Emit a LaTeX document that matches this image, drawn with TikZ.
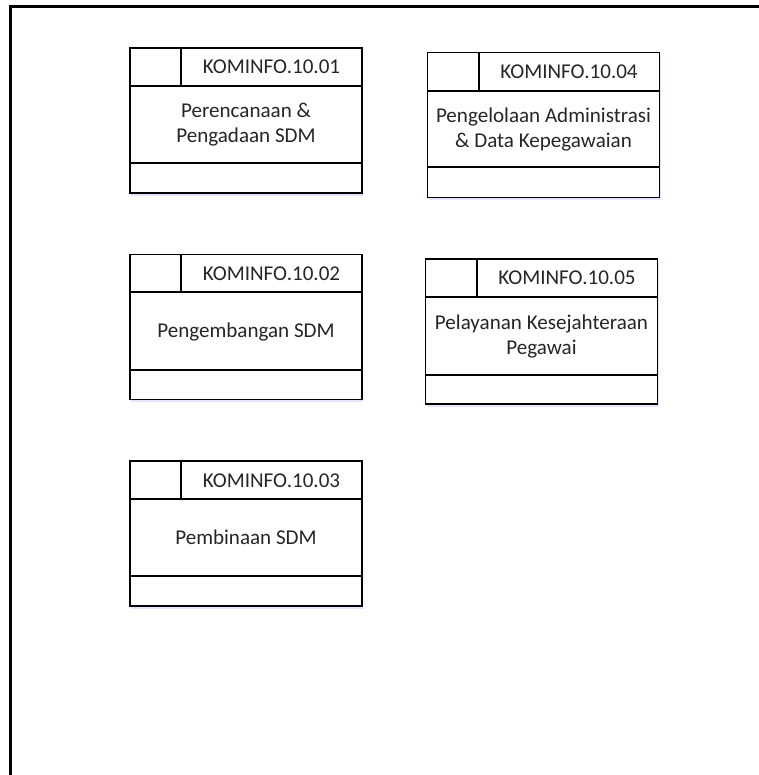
\documentclass[tikz,border=0pt]{standalone}
\usepackage{fontspec}
\setmainfont{Carlito}
\usetikzlibrary{shadows}

\tikzset{
  fungsi/.style={draw, line width=1.2pt, fill=white, inner sep=0pt,
    minimum width=174pt, minimum height=108.5pt,
    drop shadow={shadow xshift=1pt, shadow yshift=-2pt, fill=blue!30, opacity=.35}},
  garis/.style={line width=1.2pt},
  kode/.style={align=center, text=black!85, font=\fontsize{15.8}{18.75}\selectfont},
  judul/.style={align=center, text=black!85, font=\fontsize{15.8}{18.75}\selectfont}
}

\begin{document}
\begin{tikzpicture}[x=0.75pt, y=-0.75pt]
\useasboundingbox (0,0) rectangle (758,775);

% bingkai
\draw [line width=2.3pt] (10.5,776) -- (10.5,6.5) -- (759,6.5);

% KOMINFO.10.01
\node (f1) [fungsi] at (246,120.5) {};
\draw [garis] (130,86) -- (362,86);
\draw [garis] (130,163) -- (362,163);
\draw [garis] (181,48) -- (181,86);
\node (k1) [kode] at (271.5,67) {KOMINFO.10.01};
\node (j1) [judul] at (246,124.5) {Perencanaan \&\\Pengadaan SDM};

% KOMINFO.10.02
\node (f2) [fungsi] at (246,327) {};
\draw [garis] (130,292) -- (362,292);
\draw [garis] (130,370) -- (362,370);
\draw [garis] (181,255) -- (181,292);
\node (k2) [kode] at (271.5,273.5) {KOMINFO.10.02};
\node (j2) [judul] at (246,332) {Pengembangan SDM};

% KOMINFO.10.03
\node (f3) [fungsi] at (246,533.5) {};
\draw [garis] (130,499) -- (362,499);
\draw [garis] (130,576) -- (362,576);
\draw [garis] (181,462) -- (181,499);
\node (k3) [kode] at (271.5,480.5) {KOMINFO.10.03};
\node (j3) [judul] at (246,537.5) {Pembinaan SDM};

% KOMINFO.10.04
\node (f4) [fungsi] at (543.5,125) {};
\draw [garis] (428,91) -- (659,91);
\draw [garis] (428,167) -- (659,167);
\draw [garis] (479,53) -- (479,91);
\node (k4) [kode] at (569,72) {KOMINFO.10.04};
\node (j4) [judul] at (543.5,129) {Pengelolaan Administrasi\\\& Data Kepegawaian};

% KOMINFO.10.05
\node (f5) [fungsi] at (541.5,331.5) {};
\draw [garis] (426,297) -- (657,297);
\draw [garis] (426,375) -- (657,375);
\draw [garis] (477,259) -- (477,297);
\node (k5) [kode] at (567,278) {KOMINFO.10.05};
\node (j5) [judul] at (541.5,336) {Pelayanan Kesejahteraan\\Pegawai};
\end{tikzpicture}
\end{document}
